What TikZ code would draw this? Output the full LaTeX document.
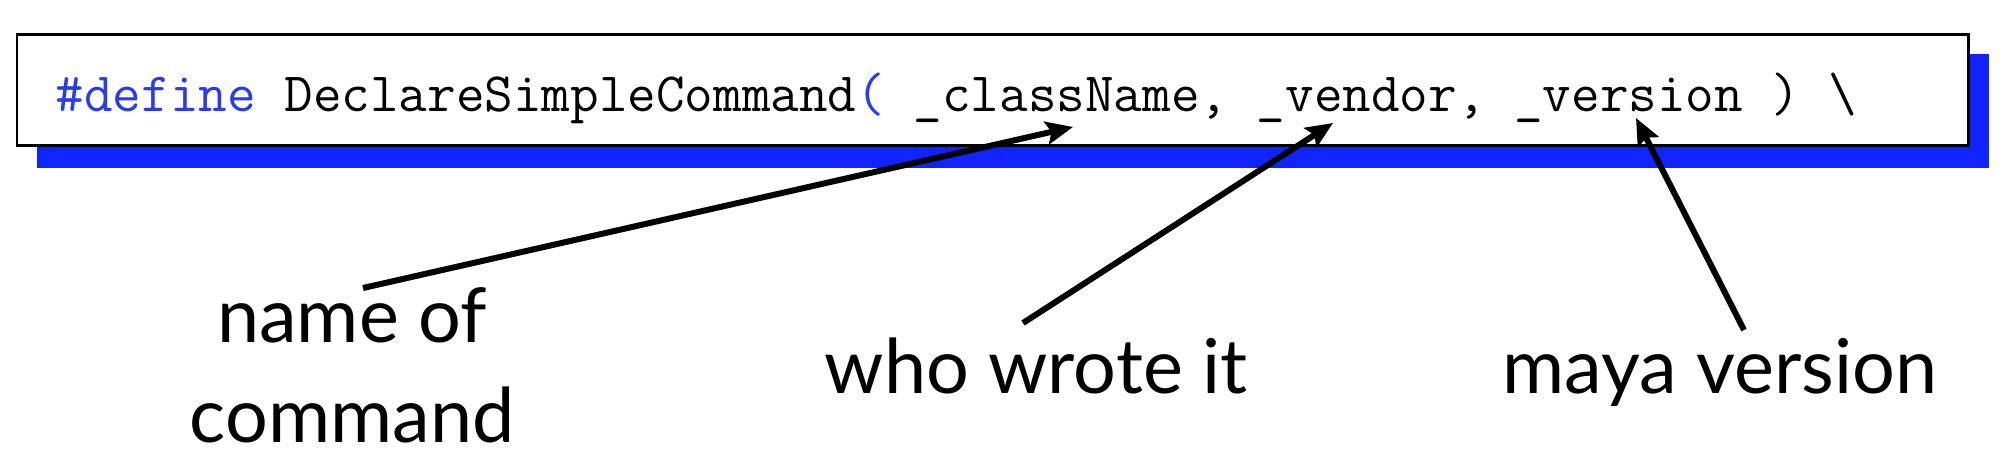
\documentclass[tikz,border=0pt]{standalone}
\usepackage{fontspec}
\setmainfont{Lato}
\usetikzlibrary{arrows.meta}
\definecolor{ombre}{RGB}{16,36,255}
\definecolor{motcle}{RGB}{40,60,235}
\tikzset{
  etiquette/.style={font=\fontsize{21.5}{28.2}\selectfont, inner sep=0pt},
  fleche/.style={line width=0.06cm, -{Stealth[length=0.27cm,width=0.23cm,inset=0.05cm]}}
}
\begin{document}
\begin{tikzpicture}
\useasboundingbox (0,0) rectangle (20.06,-4.68);

% Ombre bleue
\fill[ombre] (0.37,-0.54) rectangle (19.89,-1.68);

% Cadre du code
\draw[fill=white, line width=0.03cm] (0.17,-0.35) rectangle (19.68,-1.46);

% Ligne de code
\node[anchor=base west, inner sep=0pt, font=\fontsize{15.8}{18}\ttfamily] (code) at (0.55,-1.12)
  {\textcolor{motcle}{\#define} DeclareSimpleCommand\textcolor{motcle}{(} \_className, \_vendor, \_version ) \textbackslash};

% Etiquettes
\node[etiquette, anchor=base, align=center] (nom) at (3.52,-4.42) {name of\\command};
\node[etiquette, anchor=base] (auteur) at (10.36,-3.94) {who wrote it};
\node[etiquette, anchor=base] (version) at (17.20,-3.94) {maya version};

% Points de depart et points vises
\coordinate (dNom) at (3.63,-2.88);
\coordinate (dAuteur) at (10.23,-3.23);
\coordinate (dVersion) at (17.44,-3.30);
\coordinate (pClasse) at (10.73,-1.27);
\coordinate (pVendeur) at (13.33,-1.23);
\coordinate (pVersion) at (16.36,-1.18);

% Fleches
\draw[fleche] (dNom) -- (pClasse);
\draw[fleche] (dAuteur) -- (pVendeur);
\draw[fleche] (dVersion) -- (pVersion);

\end{tikzpicture}
\end{document}
